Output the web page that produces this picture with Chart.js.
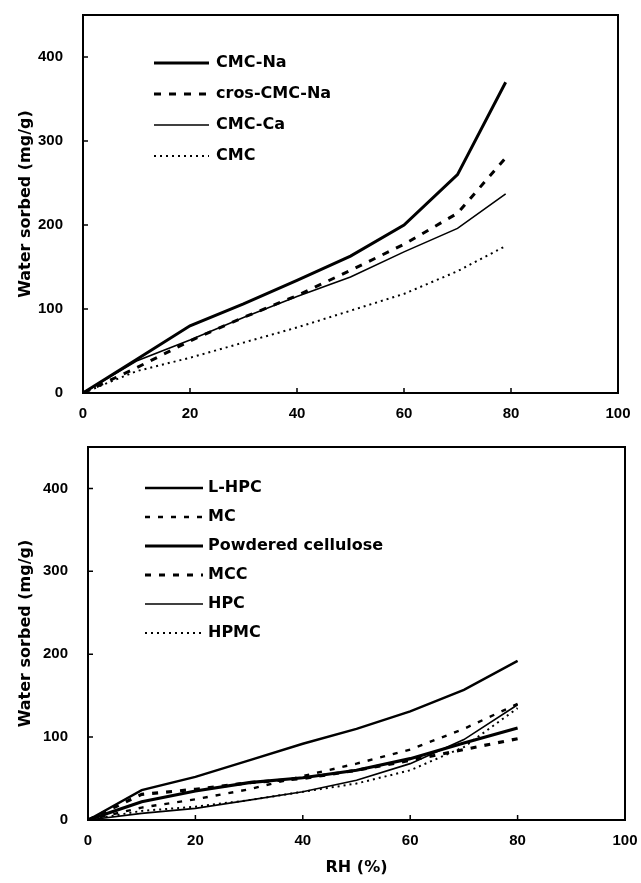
<!DOCTYPE html>
<html>
<head>
<meta charset="utf-8">
<script src="https://cdn.jsdelivr.net/npm/chart.js@4.4.1/dist/chart.umd.min.js"></script>
<style>
  html, body { margin: 0; padding: 0; background: #fff; }
  #wrap { position: relative; width: 641px; height: 883px; }
  canvas { position: absolute; left: 0; }
  #topPlot { top: 0; }
  #bottomPlot { top: 440px; }
</style>
</head>
<body>
<div id="wrap">
  <canvas id="topPlot" width="641" height="440"></canvas>
  <canvas id="bottomPlot" width="641" height="443"></canvas>
</div>
<script>
// Relative humidity (%) at each measurement
const rhTop = [0, 10, 20, 30, 40, 50, 60, 70, 79];
const rhBottom = [0, 10, 20, 30, 40, 50, 60, 70, 80];

// Water sorbed (mg/g), carboxymethylcellulose group
const cmcNa = [0, 40, 80, 106, 134, 163, 200, 260, 370];
const crosCmcNa = [0, 30, 62, 90, 116, 146, 177, 214, 280];
const cmcCa = [0, 38, 63, 90, 115, 138, 168, 196, 237];
const cmc = [0, 26, 42, 60, 78, 98, 118, 145, 175];

// Water sorbed (mg/g), other cellulose derivatives
const lHpc = [0, 36, 52, 72, 92, 110, 131, 157, 192];
const mc = [0, 15, 25, 37, 53, 68, 85, 110, 140];
const powderedCellulose = [0, 22, 35, 45, 51, 60, 74, 93, 111];
const mcc = [0, 31, 37, 45, 50, 60, 72, 85, 98];
const hpc = [0, 8, 14, 24, 34, 48, 68, 97, 139];
const hpmc = [0, 11, 16, 24, 34, 44, 60, 88, 135];

const xTicks = [0, 20, 40, 60, 80, 100];
const yTicks = [0, 100, 200, 300, 400];

const TICK_FONT = { family: 'Liberation Sans', size: 15, weight: 'bold' };
const TEXT_FONT = { family: 'DejaVu Sans', size: 16, weight: 'bold' };

function points(xs, ys) {
  return xs.map((x, i) => ({ x: x, y: ys[i] }));
}

// box round the plot area and short tick marks pointing inwards
const framePlugin = {
  id: 'frame',
  afterDraw(chart) {
    const { ctx, chartArea: a, scales } = chart;
    ctx.save();
    ctx.strokeStyle = '#000';
    ctx.lineWidth = 2;
    ctx.strokeRect(a.left, a.top, a.right - a.left, a.bottom - a.top);
    ctx.lineWidth = 1.5;
    ctx.beginPath();
    scales.x.ticks.forEach(t => {
      const px = scales.x.getPixelForValue(t.value);
      ctx.moveTo(px, a.bottom);
      ctx.lineTo(px, a.bottom - 5);
    });
    scales.y.ticks.forEach(t => {
      const py = scales.y.getPixelForValue(t.value);
      ctx.moveTo(a.left, py);
      ctx.lineTo(a.left + 5, py);
    });
    ctx.stroke();
    ctx.restore();
  }
};

// legend sitting in the upper left of the plot area
const innerLegend = {
  id: 'innerLegend',
  afterDatasetsDraw(chart, args, opts) {
    const { ctx, chartArea: a } = chart;
    ctx.save();
    ctx.font = TEXT_FONT.weight + ' ' + TEXT_FONT.size + 'px "' + TEXT_FONT.family + '"';
    ctx.textBaseline = 'middle';
    ctx.fillStyle = '#000';
    ctx.strokeStyle = '#000';
    chart.data.datasets.forEach((ds, i) => {
      const y = a.top + opts.top + i * opts.step;
      const x0 = a.left + opts.left;
      ctx.lineWidth = ds.borderWidth;
      ctx.setLineDash(ds.borderDash || []);
      ctx.beginPath();
      ctx.moveTo(x0, y);
      ctx.lineTo(x0 + opts.lineLen, y);
      ctx.stroke();
      ctx.setLineDash([]);
      ctx.fillText(ds.label, x0 + opts.lineLen + opts.gap, y);
    });
    ctx.restore();
  }
};

function series(label, xs, ys, width, dash) {
  return {
    label: label,
    data: points(xs, ys),
    borderColor: '#000',
    borderWidth: width,
    borderDash: dash,
    pointRadius: 0,
    tension: 0,
    fill: false
  };
}

function makeChart(id, datasets, cfg) {
  return new Chart(document.getElementById(id), {
    type: 'line',
    data: { datasets: datasets },
    plugins: [framePlugin, innerLegend],
    options: {
      responsive: false,
      animation: false,
      layout: { padding: cfg.padding },
      plugins: {
        legend: { display: false },
        tooltip: { enabled: false },
        innerLegend: cfg.legend
      },
      scales: {
        x: {
          type: 'linear',
          min: 0,
          max: 100,
          afterBuildTicks(s) { s.ticks = xTicks.map(v => ({ value: v })); },
          afterFit(s) {
            s.height = cfg.xHeight;
            s.paddingLeft = 0;
            s.paddingRight = 0;
          },
          grid: { display: false, drawTicks: false },
          border: { display: false },
          ticks: { color: '#000', font: TICK_FONT, padding: 12, maxRotation: 0 },
          title: {
            display: !!cfg.xTitle,
            text: cfg.xTitle || '',
            color: '#000',
            font: TEXT_FONT,
            padding: { top: 0, bottom: cfg.xTitlePad || 0 }
          }
        },
        y: {
          min: 0,
          max: 450,
          afterBuildTicks(s) { s.ticks = yTicks.map(v => ({ value: v })); },
          afterFit(s) {
            s.width = cfg.yWidth;
            s.paddingTop = 0;
            s.paddingBottom = 0;
          },
          grid: { display: false, drawTicks: false },
          border: { display: false },
          ticks: { color: '#000', font: TICK_FONT, padding: 20 },
          title: {
            display: true,
            text: 'Water sorbed (mg/g)',
            color: '#000',
            font: TEXT_FONT,
            padding: { top: 3, bottom: 0 }
          }
        }
      }
    }
  });
}

makeChart('topPlot', [
  series('CMC-Na', rhTop, cmcNa, 3, []),
  series('cros-CMC-Na', rhTop, crosCmcNa, 3, [7, 8]),
  series('CMC-Ca', rhTop, cmcCa, 1.6, []),
  series('CMC', rhTop, cmc, 2, [2, 4])
], {
  padding: { left: 13, top: 15, right: 23, bottom: 0 },
  yWidth: 70,
  xHeight: 47,
  legend: { left: 71, top: 48, step: 31, lineLen: 55, gap: 7 }
});

makeChart('bottomPlot', [
  series('L-HPC', rhBottom, lHpc, 2.4, []),
  series('MC', rhBottom, mc, 2.4, [5, 8]),
  series('Powdered cellulose', rhBottom, powderedCellulose, 3.2, []),
  series('MCC', rhBottom, mcc, 3.2, [6, 8]),
  series('HPC', rhBottom, hpc, 1.6, []),
  series('HPMC', rhBottom, hpmc, 2, [2, 4])
], {
  padding: { left: 13, top: 7, right: 16, bottom: 0 },
  yWidth: 75,
  xHeight: 63,
  xTitle: 'RH (%)',
  xTitlePad: 6,
  legend: { left: 57, top: 41, step: 29, lineLen: 58, gap: 5 }
});
</script>
</body>
</html>
